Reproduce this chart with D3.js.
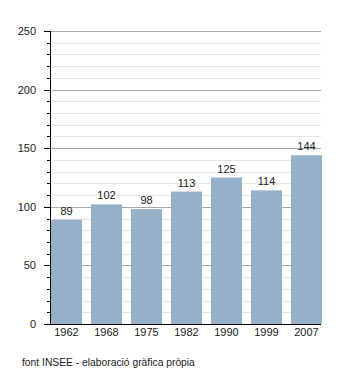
<!DOCTYPE html>
<html><head><meta charset="utf-8">
<script src="https://cdn.jsdelivr.net/npm/d3@7"></script>
<style>body{margin:0;background:#fff}svg{display:block;font-family:"Liberation Sans",Arial,sans-serif}</style>
</head><body>
<svg id="c" width="350" height="373"></svg>
<script>
const categories = ["1962","1968","1975","1982","1990","1999","2007"];
const values = [89,102,98,113,125,114,144];
const yTicks = [0,50,100,150,200,250];
const source = "font INSEE - elaboració gràfica pròpia";

const svg = d3.select("#c");
const L = 50, R = 321, T = 31, B = 324;
const y = d3.scaleLinear().domain([0,250]).range([B,T]);
const x = d3.scaleBand().domain(categories).range([46.5,326.5]).paddingInner(0.225).paddingOuter(0.1125);

const minor = d3.range(0,251,10).filter(v=>v%50!==0);
svg.append("g").selectAll("line").data(minor).join("line")
  .attr("x1",L).attr("x2",R).attr("y1",d=>Math.round(y(d))+0.5).attr("y2",d=>Math.round(y(d))+0.5)
  .attr("stroke","#e4e4e4").attr("stroke-width",1);
svg.append("g").selectAll("line").data(yTicks.filter(v=>v>0)).join("line")
  .attr("x1",L).attr("x2",R).attr("y1",d=>Math.round(y(d))+0.5).attr("y2",d=>Math.round(y(d))+0.5)
  .attr("stroke","#a8a8a8").attr("stroke-width",1);

svg.append("g").selectAll("rect").data(values).join("rect")
  .attr("x",(d,i)=>x(categories[i])).attr("width",x.bandwidth())
  .attr("y",d=>y(d)).attr("height",d=>B-y(d)).attr("fill","#97b0c9");

svg.append("g").selectAll("text").data(values).join("text")
  .attr("x",(d,i)=>x(categories[i])+x.bandwidth()/2).attr("y",d=>y(d)-5)
  .attr("text-anchor","middle").attr("font-size",11).attr("fill","#222").text(d=>d);

// y axis
const ya = svg.append("g");
ya.append("line").attr("x1",L+0.5).attr("x2",L+0.5).attr("y1",T).attr("y2",B).attr("stroke","#000");
ya.selectAll("line.mi").data(minor).join("line").attr("class","mi")
  .attr("x1",L-3).attr("x2",L).attr("y1",d=>Math.round(y(d))+0.5).attr("y2",d=>Math.round(y(d))+0.5).attr("stroke","#000");
ya.selectAll("line.ma").data(yTicks).join("line").attr("class","ma")
  .attr("x1",L-6).attr("x2",L).attr("y1",d=>Math.round(y(d))+0.5).attr("y2",d=>Math.round(y(d))+0.5).attr("stroke","#000");
ya.selectAll("text").data(yTicks).join("text")
  .attr("x",36).attr("y",d=>y(d)+4).attr("text-anchor","end").attr("font-size",11).attr("fill","#222").text(d=>d);

// x axis
svg.append("line").attr("x1",L).attr("x2",R).attr("y1",B+0.5).attr("y2",B+0.5).attr("stroke","#000");
svg.append("g").selectAll("text").data(categories).join("text")
  .attr("x",d=>x(d)+x.bandwidth()/2).attr("y",B+11.5).attr("text-anchor","middle")
  .attr("font-size",11).attr("fill","#222").text(d=>d);

svg.append("text").attr("x",22).attr("y",366).attr("font-size",10.3).attr("fill","#222").text(source);
</script>
</body></html>
